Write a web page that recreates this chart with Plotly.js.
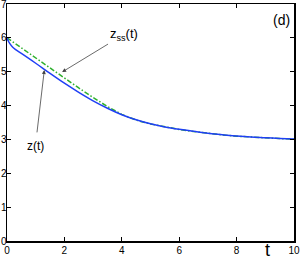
<!DOCTYPE html>
<html>
<head>
<meta charset="utf-8">
<script src="https://cdn.plot.ly/plotly-3.0.1.min.js"></script>
<style>html,body{margin:0;padding:0;background:#fff;}#chart{width:300px;height:260px;}</style>
</head>
<body>
<div id="chart"></div>
<script>
// time samples
var tZ = [0, 0.05, 0.1, 0.2, 0.3, 0.5, 1, 1.5, 2, 2.5, 3, 3.5, 4, 4.5, 5, 5.5, 6, 6.5, 7, 7.5, 8, 8.5, 9, 9.5, 10];
// z(t) (blue, solid)
var zVals = [6.0, 5.9, 5.83, 5.72, 5.65, 5.54, 5.25, 4.95, 4.66, 4.39, 4.14, 3.92, 3.73, 3.58, 3.46, 3.37, 3.30, 3.24, 3.18, 3.14, 3.10, 3.07, 3.05, 3.03, 3.01];
// z_ss(t) (green, dash-dot)
var tSS = [0, 0.5, 1, 1.5, 2, 2.5, 3, 3.5, 4, 4.5, 5, 5.5, 6, 6.5, 7, 7.5, 8, 8.5, 9, 9.5, 10];
var zssVals = [6.0, 5.7, 5.4, 5.1, 4.81, 4.52, 4.24, 3.97, 3.74, 3.57, 3.455, 3.365, 3.295, 3.235, 3.175, 3.135, 3.095, 3.065, 3.045, 3.025, 3.005];

var xTicks = [0, 2, 4, 6, 8, 10];
var yTicks = [0, 1, 2, 3, 4, 5, 6, 7];

var font = "Liberation Sans, Arial, Helvetica, sans-serif";

var traces = [
  {x: tSS, y: zssVals, mode: 'lines', line: {color: '#2fb02f', width: 1.5, dash: '5px,2px,1.5px,2px'}, hoverinfo: 'none'},
  {x: tZ, y: zVals, mode: 'lines', line: {color: '#1f3ff5', width: 1.5, shape: 'spline'}, hoverinfo: 'none'}
];

var axisCommon = {
  showgrid: false, zeroline: false, showline: true, linecolor: '#000', linewidth: 1.5,
  ticks: 'inside', ticklen: 4, tickwidth: 1, tickcolor: '#000', mirror: 'ticks',
  ticklabeloverflow: 'allow',
  tickfont: {family: font, size: 10, color: '#000'}
};

var layout = {
  width: 300, height: 260,
  margin: {l: 7, r: 6, t: 4, b: 19},
  paper_bgcolor: '#fff', plot_bgcolor: '#fff',
  showlegend: false,
  xaxis: Object.assign({}, axisCommon, {range: [0, 10], tickvals: xTicks, ticktext: xTicks.map(String), ticklabelstandoff: -1}),
  yaxis: Object.assign({}, axisCommon, {range: [0, 7], tickvals: yTicks, ticktext: yTicks.map(String), ticklabelstandoff: -3}),
  annotations: [
    {xref: 'paper', yref: 'paper', x: 0.955, y: 0.932, xanchor: 'center', yanchor: 'middle', text: '(d)', showarrow: false, font: {family: font, size: 14, color: '#000'}},
    {xref: 'paper', yref: 'paper', x: 0.909, y: -0.04, xanchor: 'center', yanchor: 'middle', text: 't', showarrow: false, font: {family: font, size: 18, color: '#000'}},
    {x: 1.92, y: 4.99, ax: 4.09, ay: 6.11, axref: 'x', ayref: 'y', text: 'z<sub>ss</sub>(t)', showarrow: true, arrowhead: 2, arrowsize: 1, arrowwidth: 0.8, arrowcolor: '#444', startstandoff: 1, font: {family: font, size: 13, color: '#000'}},
    {x: 1.3, y: 5.05, ax: 0.99, ay: 2.81, axref: 'x', ayref: 'y', text: 'z(t)', showarrow: true, arrowhead: 2, arrowsize: 1, arrowwidth: 0.8, arrowcolor: '#444', startstandoff: 5, font: {family: font, size: 12, color: '#000'}}
  ]
};

Plotly.newPlot('chart', traces, layout, {staticPlot: true, displayModeBar: false});
</script>
</body>
</html>
